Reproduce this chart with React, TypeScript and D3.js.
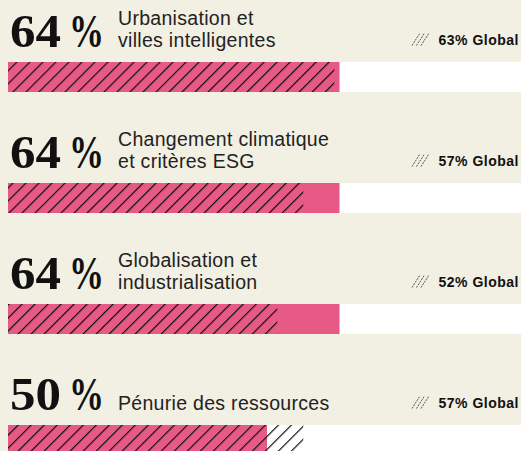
import React from "react";
import * as d3 from "d3";

const categories = [
  ["Urbanisation et", "villes intelligentes"],
  ["Changement climatique", "et critères ESG"],
  ["Globalisation et", "industrialisation"],
  ["Pénurie des ressources"],
];
const values = [64, 64, 64, 50];
const globalValues = [63, 57, 52, 57];

const W = 521;
const H = 451;
const ROW = 121;
const BG = "#f2efe3";
const PINK = "#e85a86";

export default function App() {
  const x = d3.scaleLinear().domain([0, 100]).range([8, 526]);
  return (
    <svg
      width={W}
      height={H}
      style={{ position: "fixed", top: 0, left: 0, display: "block" }}
    >
      <defs>
        <pattern
          id="hatch"
          patternUnits="userSpaceOnUse"
          width={9.2}
          height={9.2}
          patternTransform="rotate(45)"
        >
          <line x1={0} y1={0} x2={0} y2={9.2} stroke="#111" strokeWidth={2.4} />
        </pattern>
      </defs>
      <rect x={0} y={0} width={W} height={H} fill={BG} />
      {values.map((v, i) => {
        const y0 = i * ROW;
        const lines = categories[i];
        const g = globalValues[i];
        return (
          <g key={i}>
            <text
              x={10}
              y={y0 + 47}
              fontFamily="'Liberation Serif', serif"
              fontWeight={700}
              fontSize={47}
              fill="#111"
              textLength={51}
              lengthAdjust="spacingAndGlyphs"
            >
              {v}
            </text>
            <text
              x={104}
              y={y0 + 47}
              textAnchor="end"
              fontFamily="'Liberation Serif', serif"
              fontWeight={700}
              fontSize={47}
              fill="#111"
              textLength={35}
              lengthAdjust="spacingAndGlyphs"
            >
              %
            </text>
            {lines.map((t, j) => (
              <text
                key={j}
                x={118}
                y={lines.length === 1 ? y0 + 46.5 : y0 + 24.5 + j * 22}
                fontFamily="'Liberation Sans', Arial, sans-serif"
                fontSize={19.5}
                letterSpacing={0.3}
                fill="#222"
              >
                {t}
              </text>
            ))}
            <g stroke="#555" strokeWidth={1} strokeDasharray="2,1">
              {[0, 4.5, 9].map((o) => (
                <line
                  key={o}
                  x1={412 + o}
                  y1={y0 + 45.5}
                  x2={420 + o}
                  y2={y0 + 33}
                />
              ))}
            </g>
            <text
              x={519}
              y={y0 + 45}
              textAnchor="end"
              fontFamily="'Liberation Sans', Arial, sans-serif"
              fontWeight={700}
              fontSize={14}
              letterSpacing={0.5}
              fill="#111"
            >
              {`${g}% Global`}
            </text>
            <rect x={x(0)} y={y0 + 62} width={x(100) - x(0)} height={30} fill="#fff" />
            <rect x={x(0)} y={y0 + 62} width={x(v) - x(0)} height={30} fill={PINK} />
            <rect x={x(0)} y={y0 + 62} width={x(g) - x(0)} height={30} fill="url(#hatch)" />
          </g>
        );
      })}
    </svg>
  );
}
